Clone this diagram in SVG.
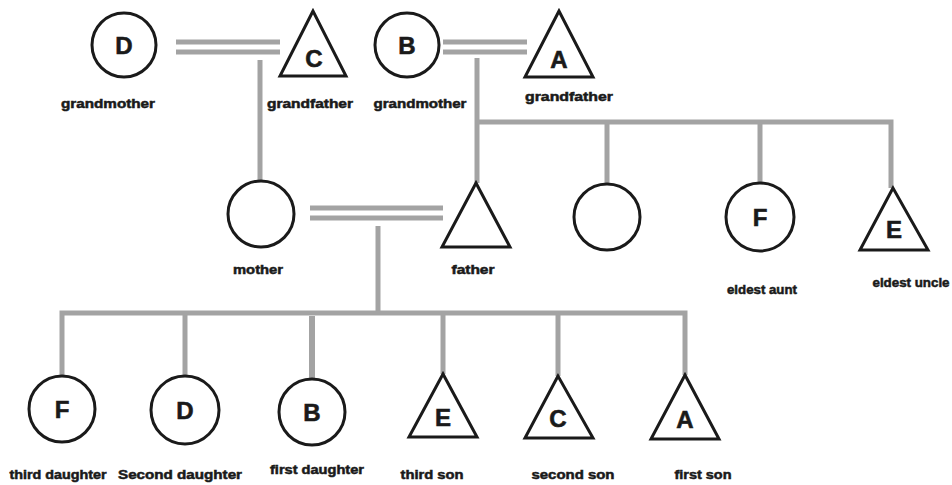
<svg xmlns="http://www.w3.org/2000/svg" width="952" height="485" viewBox="0 0 952 485">
  <style>
    .shape { fill: none; stroke: #1a1a1a; stroke-width: 3; }
    .link { fill: none; stroke: #a3a3a3; stroke-width: 5; }
    .letter { font-family: "Liberation Sans", Arial, sans-serif; font-weight: bold; font-size: 24px; fill: #1a1a1a; stroke: #1a1a1a; stroke-width: 0.6; text-anchor: middle; }
    .label { font-family: "Liberation Sans", Arial, sans-serif; font-weight: bold; font-size: 12px; fill: #1a1a1a; stroke: #1a1a1a; stroke-width: 0.5; text-anchor: middle; }
  </style>
  <rect width="952" height="485" fill="#ffffff"/>

  <!-- connectors: marriage double lines and descent lines -->
  <g id="connectors">
    <line class="link" x1="176" y1="42" x2="280" y2="42"/>
    <line class="link" x1="176" y1="52" x2="280" y2="52"/>
    <line class="link" x1="260" y1="60" x2="260" y2="181"/>

    <line class="link" x1="443" y1="42" x2="527" y2="42"/>
    <line class="link" x1="443" y1="52" x2="527" y2="52"/>
    <polyline class="link" points="477,58 477,183"/>
    <polyline class="link" points="477,122 891,122 891,188"/>
    <line class="link" x1="607" y1="122" x2="607" y2="184"/>
    <line class="link" x1="760" y1="122" x2="760" y2="183"/>

    <line class="link" x1="310" y1="208" x2="443" y2="208"/>
    <line class="link" x1="310" y1="218" x2="443" y2="218"/>
    <line class="link" x1="378" y1="226" x2="378" y2="313"/>
    <polyline class="link" points="62,376 62,313 685,313 685,375"/>
    <line class="link" x1="185" y1="313" x2="185" y2="377"/>
    <line class="link" x1="312" y1="316" x2="312" y2="379" style="stroke-width:6"/>
    <line class="link" x1="443" y1="313" x2="443" y2="374"/>
    <line class="link" x1="558" y1="313" x2="558" y2="376"/>
  </g>

  <!-- generation 1 -->
  <g id="grandmother-d">
    <circle class="shape" cx="124" cy="45" r="32"/>
    <text class="letter" x="124" y="54">D</text>
    <text class="label" x="108" y="108" textLength="94" lengthAdjust="spacingAndGlyphs">grandmother</text>
  </g>
  <g id="grandfather-c">
    <polygon class="shape" points="313,11 280,76 346,76"/>
    <text class="letter" x="314" y="67">C</text>
    <text class="label" x="310" y="108" textLength="86" lengthAdjust="spacingAndGlyphs">grandfather</text>
  </g>
  <g id="grandmother-b">
    <circle class="shape" cx="407" cy="45" r="32"/>
    <text class="letter" x="407" y="54">B</text>
    <text class="label" x="420" y="108" textLength="93" lengthAdjust="spacingAndGlyphs">grandmother</text>
  </g>
  <g id="grandfather-a">
    <polygon class="shape" points="559,11 525,77 593,77"/>
    <text class="letter" x="559" y="68">A</text>
    <text class="label" x="569" y="101" textLength="88" lengthAdjust="spacingAndGlyphs">grandfather</text>
  </g>

  <!-- generation 2 -->
  <g id="mother">
    <circle class="shape" cx="261" cy="214" r="33"/>
    <text class="label" x="258" y="274" textLength="50" lengthAdjust="spacingAndGlyphs">mother</text>
  </g>
  <g id="father">
    <polygon class="shape" points="476,183 442,247 510,247"/>
    <text class="label" x="473" y="274" textLength="43" lengthAdjust="spacingAndGlyphs">father</text>
  </g>
  <g id="aunt">
    <circle class="shape" cx="607" cy="217" r="33"/>
  </g>
  <g id="eldest-aunt">
    <circle class="shape" cx="760" cy="217" r="34"/>
    <text class="letter" x="760" y="226">F</text>
    <text class="label" x="762" y="294" textLength="70" lengthAdjust="spacingAndGlyphs">eldest aunt</text>
  </g>
  <g id="eldest-uncle">
    <polygon class="shape" points="893,188 860,250 928,250"/>
    <text class="letter" x="894" y="238">E</text>
    <text class="label" x="911" y="287" textLength="77" lengthAdjust="spacingAndGlyphs">eldest uncle</text>
  </g>

  <!-- generation 3 -->
  <g id="third-daughter">
    <circle class="shape" cx="62" cy="409" r="33"/>
    <text class="letter" x="62" y="418">F</text>
    <text class="label" x="58" y="479" textLength="97" lengthAdjust="spacingAndGlyphs">third daughter</text>
  </g>
  <g id="second-daughter">
    <circle class="shape" cx="185" cy="410" r="34"/>
    <text class="letter" x="185" y="419">D</text>
    <text class="label" x="180" y="479" textLength="124" lengthAdjust="spacingAndGlyphs">Second daughter</text>
  </g>
  <g id="first-daughter">
    <circle class="shape" cx="312" cy="412" r="33"/>
    <text class="letter" x="312" y="421">B</text>
    <text class="label" x="317" y="474" textLength="94" lengthAdjust="spacingAndGlyphs">first daughter</text>
  </g>
  <g id="third-son">
    <polygon class="shape" points="443,374 409,437 477,437"/>
    <text class="letter" x="443" y="426">E</text>
    <text class="label" x="432" y="479" textLength="63" lengthAdjust="spacingAndGlyphs">third son</text>
  </g>
  <g id="second-son">
    <polygon class="shape" points="558,376 525,438 593,438"/>
    <text class="letter" x="558" y="427">C</text>
    <text class="label" x="573" y="479" textLength="83" lengthAdjust="spacingAndGlyphs">second son</text>
  </g>
  <g id="first-son">
    <polygon class="shape" points="685,375 651,439 719,439"/>
    <text class="letter" x="685" y="428">A</text>
    <text class="label" x="703" y="479" textLength="57" lengthAdjust="spacingAndGlyphs">first son</text>
  </g>
</svg>
